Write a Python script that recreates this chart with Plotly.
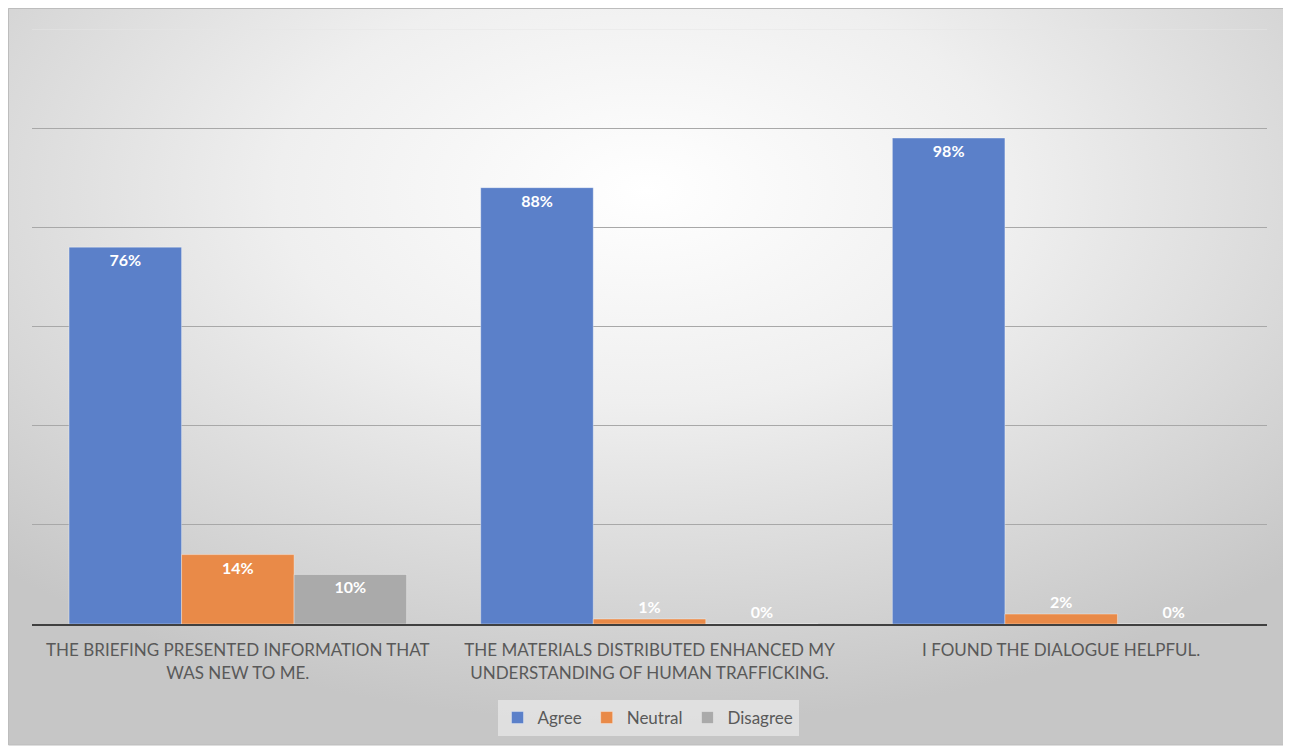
import base64
import plotly.graph_objects as go

categories = [
    "THE BRIEFING PRESENTED INFORMATION THAT<br>WAS NEW TO ME.",
    "THE MATERIALS DISTRIBUTED ENHANCED MY<br>UNDERSTANDING OF HUMAN TRAFFICKING.",
    "I FOUND THE DIALOGUE HELPFUL.",
]
series_names = ["Agree", "Neutral", "Disagree"]
agree = [76, 88, 98]
neutral = [14, 1, 2]
disagree = [10, 0, 0]
series_values = [agree, neutral, disagree]
colors = ["#5b80c9", "#e98a48", "#aaaaaa"]

OFF = 8  # page body margin
W, H = 1291 - OFF, 748 - OFF
L, R, T, B = 32 - OFF, 24, 29 - OFF, 124
pw, ph = W - L - R, H - T - B

def px_x(p):
    return (p - OFF - L) / pw

def px_y(p):
    return (H + OFF - B - p) / ph

svg = (
    '<svg xmlns="http://www.w3.org/2000/svg" width="1000" height="1000" preserveAspectRatio="none" viewBox="0 0 1000 1000">'
    '<defs><radialGradient id="g" cx="0.5" cy="0.25" r="0.72" gradientUnits="objectBoundingBox">'
    '<stop offset="0" stop-color="#ffffff"/><stop offset="0.4" stop-color="#efefef"/>'
    '<stop offset="1" stop-color="#c6c6c6"/></radialGradient></defs>'
    '<rect x="0" y="0" width="1000" height="1000" fill="url(#g)"/></svg>'
)
src = "data:image/svg+xml;base64," + base64.b64encode(svg.encode()).decode()

lab_font = dict(color="white", size=16, family="Lato", weight="bold")

fig = go.Figure()
for name, vals, col in zip(series_names, series_values, colors):
    pos = ["inside" if v >= 5 else "outside" for v in vals]
    fig.add_trace(go.Bar(
        name=name, x=categories, y=vals,
        marker=dict(color=col, line=dict(color="rgba(255,255,255,0.35)", width=1)),
        text=[f"{v}%" for v in vals], textposition=pos,
        insidetextanchor="end",
        textfont=lab_font, outsidetextfont=lab_font, insidetextfont=lab_font,
        cliponaxis=False,
    ))

fig.update_layout(
    width=W, height=H,
    margin=dict(l=L, r=R, t=T, b=B),
    paper_bgcolor="white", plot_bgcolor="rgba(0,0,0,0)",
    barmode="group", bargap=0.18, bargroupgap=0,
    font=dict(family="Lato", size=17, color="#595959"),
    legend=dict(orientation="h", x=px_x(648), y=px_y(718), xanchor="center", yanchor="middle",
                bgcolor="rgba(240,240,240,0.6)", font=dict(size=17, color="#595959"),
                itemwidth=30, traceorder="normal"),
    images=[dict(source=src, xref="paper", yref="paper", x=px_x(7), y=px_y(5),
                 sizex=px_x(1285) - px_x(7), sizey=px_y(5) - px_y(745),
                 sizing="stretch", layer="below", xanchor="left", yanchor="top")],
    shapes=[
        dict(type="rect", xref="paper", yref="paper", x0=px_x(8.5), x1=px_x(1285), y0=px_y(745), y1=px_y(8.5),
             line=dict(color="#bdbdbd", width=1), layer="below"),
        dict(type="line", xref="paper", yref="y", x0=0, x1=1, y0=120, y1=120,
             line=dict(color="#e6e6e6", width=1), layer="below"),
    ],
)
fig.update_yaxes(range=[0, 120], tickvals=[20, 40, 60, 80, 100], showticklabels=False,
                 gridcolor="#a8a8a8", gridwidth=1, zeroline=False, showline=False)
fig.update_xaxes(showline=True, linecolor="#404040", linewidth=2, ticks="",
                 ticklabelstandoff=10,
                 tickfont=dict(size=17, color="#595959"))

fig.write_html("out.html")
